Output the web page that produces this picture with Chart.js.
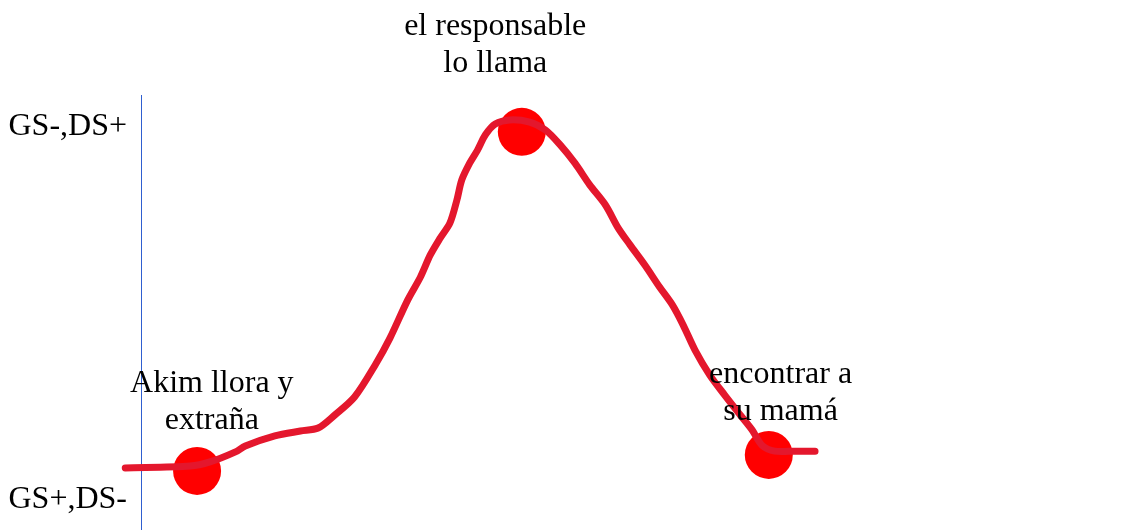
<!DOCTYPE html>
<html>
<head>
<meta charset="utf-8">
<script src="https://cdn.jsdelivr.net/npm/chart.js@4/dist/chart.umd.min.js"></script>
<style>
  body { margin: 0; background: #fff; }
  #wrap { width: 1125px; height: 530px; }
</style>
</head>
<body>
<div id="wrap"><canvas id="sketch" width="1125" height="530"></canvas></div>
<script>
// y: 0 = GS+,DS-  /  100 = GS-,DS+
const yTicks = [0, 100];
const yTickLabels = ['GS+,DS-', 'GS-,DS+'];

// hand drawn curve
const curveX = [-1.6, 5.0, 7.0, 9.6, 10.6, 13.6, 16.2, 18.0, 19.7, 21.7, 23.8, 25.3, 27.1, 28.4, 29.4,
  30.4, 31.4, 32.1, 32.6, 33.4, 34.2, 35.0, 36.0, 37.5, 39.5, 41.1, 42.6, 44.1, 45.6, 47.2, 48.5, 49.7,
  51.2, 52.7, 54.0, 55.1, 56.3, 57.8, 59.3, 60.9, 62.1, 63.1, 64.4, 66.5, 68.5];
const curveY = [8.6, 9.1, 10.2, 12.9, 14.5, 17.2, 18.5, 19.3, 22.8, 27.6, 36.2, 43.4, 53.6, 59.8, 65.7,
  70.2, 74.3, 80.4, 85.8, 90.3, 93.8, 97.9, 100.8, 101.9, 101.3, 99.2, 95.2, 90.3, 84.5, 79.1, 72.9, 68.4,
  63.0, 57.1, 52.3, 46.9, 40.2, 33.5, 28.2, 22.8, 18.8, 14.7, 13.1, 13.1, 13.1];

// the three moments
const eventX = [5.7, 38.7, 63.8];
const eventY = [7.8, 98.7, 12.1];
const eventText = [['Akim llora y', 'extraña'], ['el responsable', 'lo llama'], ['encontrar a', 'su mamá']];
const eventTextX = [7.2, 36.0, 65.0];
const eventTextY = [29.0, 124.7, 31.4];

const serif = '"Liberation Serif", "Times New Roman", serif';

// draws the event captions at data positions
const captionPlugin = {
    id: 'captions',
    afterDatasetsDraw(chart) {
        const ctx = chart.ctx;
        const xs = chart.scales.x;
        const ys = chart.scales.y;
        ctx.save();
        ctx.font = '32px ' + serif;
        ctx.fillStyle = '#000';
        ctx.textAlign = 'center';
        ctx.textBaseline = 'alphabetic';
        eventText.forEach((lines, i) => {
            const px = xs.getPixelForValue(eventTextX[i]);
            const py = ys.getPixelForValue(eventTextY[i]);
            lines.forEach((line, j) => ctx.fillText(line, px, py + j * 37));
        });
        ctx.restore();
    }
};

const ctx = document.getElementById('sketch').getContext('2d');
new Chart(ctx, {
    type: 'scatter',
    data: {
        datasets: [
            {
                data: curveX.map((x, i) => ({ x: x, y: curveY[i] })),
                showLine: true,
                borderColor: '#e4172d',
                borderWidth: 7,
                borderCapStyle: 'round',
                borderJoinStyle: 'round',
                tension: 0.3,
                pointRadius: 0,
                clip: false
            },
            {
                data: eventX.map((x, i) => ({ x: x, y: eventY[i] })),
                showLine: false,
                pointRadius: 24,
                pointBackgroundColor: '#ff0000',
                pointBorderWidth: 0,
                clip: false
            }
        ]
    },
    options: {
        responsive: false,
        animation: false,
        layout: { autoPadding: false, padding: { top: 95, right: 0, bottom: 0, left: 0 } },
        plugins: {
            legend: { display: false },
            tooltip: { enabled: false }
        },
        scales: {
            x: {
                type: 'linear',
                display: false,
                min: 0,
                max: 100
            },
            y: {
                type: 'linear',
                min: -8.04,
                max: 108.58,
                afterBuildTicks: (scale) => {
                    scale.ticks = yTicks.map(v => ({ value: v }));
                },
                afterFit: (scale) => {
                    scale.width = 141;
                    // labels are not at the ends, so no extra room needed
                    scale.paddingTop = 0;
                    scale.paddingBottom = 0;
                },
                grid: { display: false },
                border: { display: true, color: '#2f5fd0', width: 1 },
                ticks: {
                    padding: 6,
                    color: '#000',
                    font: { family: serif, size: 32 },
                    callback: (value) => {
                        const i = yTicks.indexOf(value);
                        return i >= 0 ? yTickLabels[i] : '';
                    }
                }
            }
        }
    },
    plugins: [captionPlugin]
});
</script>
</body>
</html>
